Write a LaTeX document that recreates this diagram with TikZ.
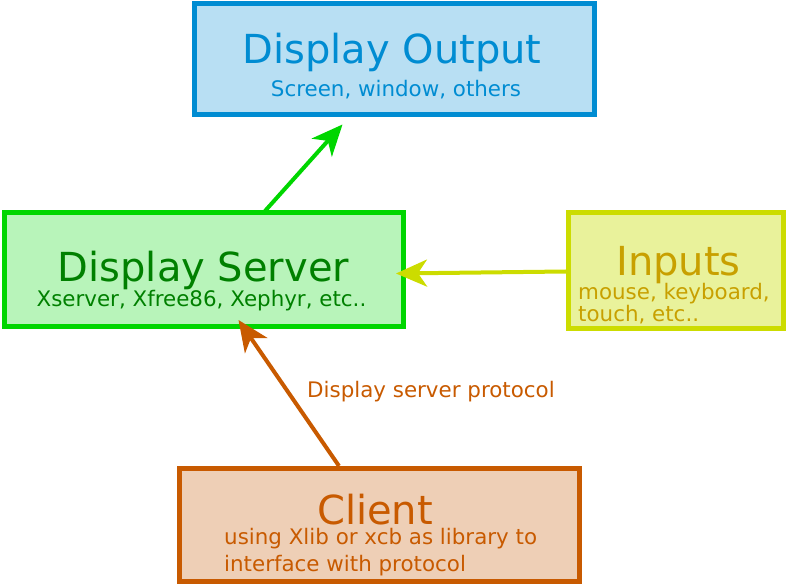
\documentclass[tikz,border=0pt]{standalone}
\usepackage{fontspec}
\setmainfont{DejaVu Sans}
\usetikzlibrary{arrows.meta}
\definecolor{outS}{RGB}{0,140,210}
\definecolor{outF}{RGB}{184,223,243}
\definecolor{srvS}{RGB}{0,214,0}
\definecolor{srvF}{RGB}{184,244,186}
\definecolor{srvT}{RGB}{0,128,0}
\definecolor{inS}{RGB}{204,220,0}
\definecolor{inF}{RGB}{233,242,155}
\definecolor{inT}{RGB}{200,160,0}
\definecolor{clS}{RGB}{200,90,0}
\definecolor{clF}{RGB}{238,207,182}
\tikzset{
  box/.style={draw, line width=5pt, inner sep=0pt, outer sep=0pt},
  big/.style={anchor=base, inner sep=0pt, font=\fontsize{40}{48}\selectfont},
  small/.style={inner sep=0pt, font=\fontsize{21.4}{25}\selectfont},
  conn/.style={line width=4pt, -{Stealth[length=31pt,width=27pt,inset=9pt]}},
}
\begin{document}
\begin{tikzpicture}[x=1pt,y=-1pt]
\useasboundingbox (0,0) rectangle (787,585);
% boxes
\node[box, draw=outS, fill=outF, minimum width=400pt, minimum height=111pt] (out) at (394,59.5) {};
\node[box, draw=srvS, fill=srvF, minimum width=399pt, minimum height=113pt] (srv) at (203.5,269.5) {};
\node[box, draw=inS, fill=inF, minimum width=215pt, minimum height=115pt] (inp) at (675.5,270.5) {};
\node[box, draw=clS, fill=clF, minimum width=400pt, minimum height=113pt] (cli) at (379,524.5) {};
% texts
\node[big, text=outS] (outT) at (392,64) {Display Output};
\node[small, anchor=base, text=outS] (outS) at (396,97) {Screen, window, others};
\node[big, text=srvT] (srvTt) at (203.5,282) {Display Server};
\node[small, anchor=base, text=srvT] (srvSt) at (201.5,306) {Xserver, Xfree86, Xephyr, etc..};
\node[big, text=inT] (inpT) at (678.5,276) {Inputs};
\node[small, anchor=base west, text=inT] (inp1) at (578,300) {mouse, keyboard,};
\node[small, anchor=base west, text=inT] (inp2) at (578,322) {touch, etc..};
\node[big, text=clS] (cliT) at (375,524) {Client};
\node[small, anchor=base west, text=clS] (cli1) at (224,544) {using Xlib or xcb as library to};
\node[small, anchor=base west, text=clS] (cli2) at (224,571) {interface with protocol};
\node[small, anchor=base west, text=clS] (proto) at (307,397) {Display server protocol};
% connector ends
\coordinate (g0) at (265,211);
\coordinate (g1) at (342.5,124.5);
\coordinate (y0) at (566,271.5);
\coordinate (y1) at (396,273.5);
\coordinate (o0) at (339,466);
\coordinate (o1) at (238.5,320);
\draw[conn, draw=srvS, fill=srvS] (g0) -- (g1);
\draw[conn, draw=inS, fill=inS] (y0) -- (y1);
\draw[conn, draw=clS, fill=clS] (o0) -- (o1);
\end{tikzpicture}
\end{document}
